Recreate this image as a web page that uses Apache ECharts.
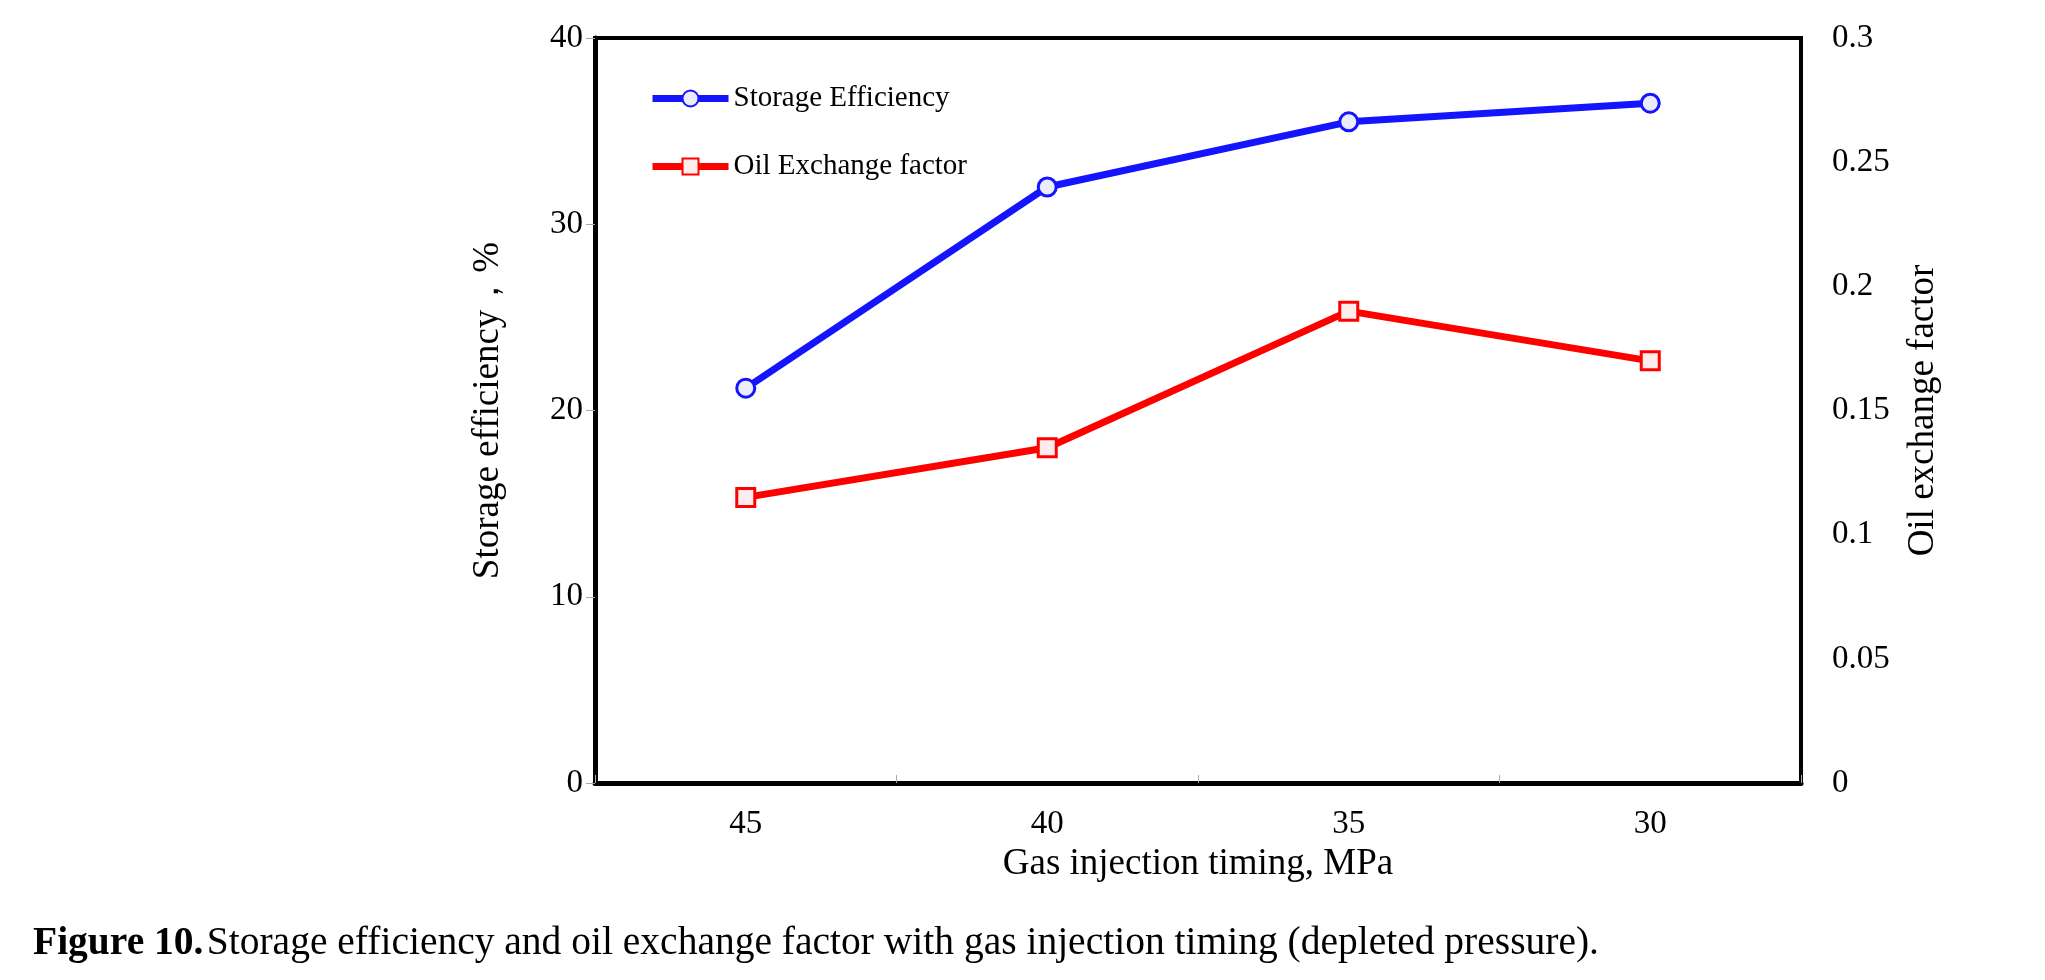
<!DOCTYPE html>
<html>
<head>
<meta charset="utf-8">
<script src="https://cdn.jsdelivr.net/npm/echarts@6/dist/echarts.min.js"></script>
<style>
html,body{margin:0;padding:0;background:#fff;}
#c{width:2045px;height:980px;}
</style>
</head>
<body>
<div id="c"></div>
<script>
var categories = ['45', '40', '35', '30'];
var storageEfficiency = [21.2, 32.0, 35.5, 36.5];
var oilExchangeFactor = [0.115, 0.135, 0.19, 0.17];
var leftTicks = [0, 10, 20, 30, 40];
var rightTicks = [0, 0.05, 0.1, 0.15, 0.2, 0.25, 0.3];

var FONT = '"Liberation Serif", "Times New Roman", serif';
var chart = echarts.init(document.getElementById('c'));
chart.setOption({
  animation: false,
  backgroundColor: '#ffffff',
  textStyle: { fontFamily: FONT, color: '#000' },
  grid: { left: 595, right: 244, top: 38, bottom: 197, show: true, borderColor: '#000', borderWidth: 4, backgroundColor: 'transparent' },
  legend: {
    orient: 'vertical',
    left: 644, top: 79,
    itemWidth: 76, itemHeight: 20,
    itemGap: 39,
    lineStyle: { width: 7 },
    textStyle: { fontFamily: FONT, fontSize: 29, color: '#000', padding: [0, 0, 0, 0] },
    data: ['Storage Efficiency', 'Oil Exchange factor']
  },
  xAxis: {
    type: 'category',
    data: categories,
    boundaryGap: true,
    name: 'Gas injection timing, MPa',
    nameLocation: 'middle',
    nameGap: 62,
    nameTextStyle: { fontFamily: FONT, fontSize: 37, color: '#000' },
    axisLine: { show: true, lineStyle: { color: '#000', width: 5 } },
    axisTick: { show: true, inside: true, length: 8, lineStyle: { color: '#aaaaaa', width: 1 } },
    axisLabel: { fontFamily: FONT, fontSize: 33, color: '#000', margin: 25 },
    splitLine: { show: false }
  },
  yAxis: [
    {
      type: 'value', min: leftTicks[0], max: leftTicks[leftTicks.length - 1], interval: 10,
      name: 'Storage efficiency，%',
      nameLocation: 'middle', nameGap: 88, nameRotate: 90,
      nameTextStyle: { fontFamily: FONT, fontSize: 37, color: '#000' },
      axisLine: { show: true, lineStyle: { color: '#000', width: 5 } },
      axisTick: { show: true, inside: false, length: 9, lineStyle: { color: '#aaaaaa', width: 1 } },
      axisLabel: { fontFamily: FONT, fontSize: 33, color: '#000', margin: 12 },
      splitLine: { show: false }
    },
    {
      type: 'value', min: rightTicks[0], max: rightTicks[rightTicks.length - 1], interval: 0.05,
      position: 'right',
      name: 'Oil exchange factor',
      nameLocation: 'middle', nameGap: 104, nameRotate: 90,
      nameTextStyle: { fontFamily: FONT, fontSize: 37, color: '#000' },
      axisLine: { show: true, lineStyle: { color: '#000', width: 4 } },
      axisTick: { show: false },
      axisLabel: { fontFamily: FONT, fontSize: 33, color: '#000', margin: 31 },
      splitLine: { show: false }
    }
  ],
  series: [
    {
      name: 'Storage Efficiency', type: 'line', yAxisIndex: 0,
      data: storageEfficiency,
      symbol: 'circle', symbolSize: 18,
      lineStyle: { color: '#1414ff', width: 7 },
      itemStyle: { color: '#ececff', borderColor: '#1414ff', borderWidth: 3 },
      z: 3
    },
    {
      name: 'Oil Exchange factor', type: 'line', yAxisIndex: 1,
      data: oilExchangeFactor,
      symbol: 'rect', symbolSize: 18,
      lineStyle: { color: '#ff0000', width: 7 },
      itemStyle: { color: '#fdecec', borderColor: '#ff0000', borderWidth: 3 },
      z: 3
    }
  ],
  graphic: [
    {
      type: 'text', left: 33, top: 924,
      style: {
        text: '{b|Figure 10.} {r|Storage efficiency and oil exchange factor with gas injection timing (depleted pressure).}',
        rich: {
          b: { fontFamily: FONT, fontSize: 39.5, fontWeight: 'bold', fill: '#000' },
          r: { fontFamily: FONT, fontSize: 39.5, fill: '#000' }
        }
      }
    }
  ]
});
</script>
</body>
</html>
